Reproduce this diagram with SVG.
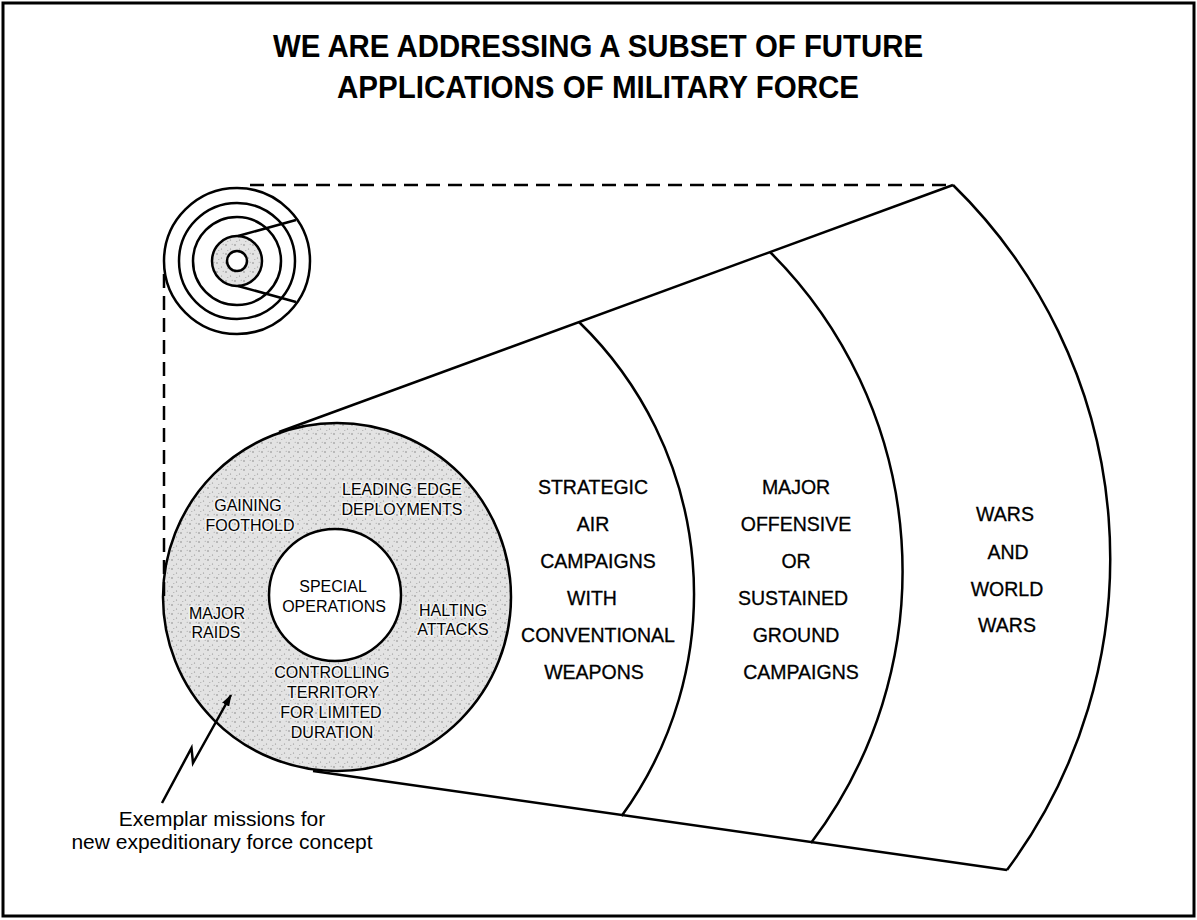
<svg xmlns="http://www.w3.org/2000/svg" width="1197" height="920" viewBox="0 0 1197 920">
<style>
text{font-family:"Liberation Sans",Arial,Helvetica,sans-serif;fill:#000;text-anchor:middle}
.title{font-size:32px;font-weight:bold}
.lbl{font-size:16px;paint-order:stroke;stroke:#f4f4f4;stroke-width:3px;stroke-linejoin:round}
.big{font-size:19.5px;stroke:#000;stroke-width:0.3px}
.note{font-size:21px}
.ln{fill:none;stroke:#000;stroke-width:2.5}
.dash{fill:none;stroke:#000;stroke-width:2.5;stroke-dasharray:14 8}
</style>
<defs>
<pattern id="stip" width="9" height="9" patternUnits="userSpaceOnUse">
<rect width="9" height="9" fill="#e3e3e3"/>
<circle cx="1" cy="2" r="0.7" fill="#6f6f6f"/>
<circle cx="5.5" cy="6" r="0.6" fill="#888"/>
<circle cx="7.2" cy="1.2" r="0.5" fill="#999"/>
<circle cx="2.8" cy="7.6" r="0.5" fill="#999"/>
</pattern>
<marker id="ah" viewBox="0 0 12 8" refX="11" refY="4" markerWidth="12" markerHeight="8" markerUnits="userSpaceOnUse" orient="auto">
<path d="M0,0 L12,4 L0,8 Z" fill="#000"/>
</marker>
</defs>
<rect x="3" y="3" width="1191" height="913" fill="#fff" stroke="#000" stroke-width="3"/>
<g id="title">
<text class="title" x="598" y="57" textLength="650" lengthAdjust="spacingAndGlyphs">WE ARE ADDRESSING A SUBSET OF FUTURE</text>
<text class="title" x="598" y="98" textLength="522" lengthAdjust="spacingAndGlyphs">APPLICATIONS OF MILITARY FORCE</text>
</g>
<g id="icon">
<circle class="ln" cx="237" cy="261" r="73"/>
<circle class="ln" cx="237" cy="261" r="58"/>
<circle class="ln" cx="237" cy="261" r="44"/>
<circle cx="237" cy="261" r="25" fill="url(#stip)" stroke="#000" stroke-width="2.5"/>
<circle cx="237" cy="261" r="10" fill="#fff" stroke="#000" stroke-width="2.5"/>
<path class="ln" d="M238,236 L296,220 M238,286 L296,302"/>
</g>
<g id="arcs">
<path class="ln" d="M579,322 A378,378 0 0 1 621.6,816"/>
<path class="ln" d="M770,252 A450,450 0 0 1 811,843"/>
<path class="ln" d="M953,185 A522,522 0 0 1 1007,870"/>
</g>
<g id="core">
<circle cx="337" cy="597" r="174" fill="url(#stip)" stroke="#000" stroke-width="2.5"/>
<circle cx="335" cy="595" r="66" fill="#fff" stroke="#000" stroke-width="2.5"/>
<text class="lbl" x="248" y="511">GAINING</text>
<text class="lbl" x="250" y="531">FOOTHOLD</text>
<text class="lbl" x="402" y="495">LEADING EDGE</text>
<text class="lbl" x="402" y="515">DEPLOYMENTS</text>
<text class="lbl" x="333" y="592" style="stroke:none">SPECIAL</text>
<text class="lbl" x="334" y="612" style="stroke:none">OPERATIONS</text>
<text class="lbl" x="217" y="619">MAJOR</text>
<text class="lbl" x="216" y="638">RAIDS</text>
<text class="lbl" x="453" y="616">HALTING</text>
<text class="lbl" x="453" y="635">ATTACKS</text>
<text class="lbl" x="332" y="678">CONTROLLING</text>
<text class="lbl" x="333" y="698">TERRITORY</text>
<text class="lbl" x="331" y="718">FOR LIMITED</text>
<text class="lbl" x="332" y="738">DURATION</text>
</g>
<g id="connectors">
<path class="dash" d="M250,185 H953"/>
<path class="dash" d="M164,274 V600"/>
<path class="ln" d="M279,432 L953,185"/>
<path class="ln" d="M313,771 L1007,870"/>
<path class="ln" d="M162,803 L191.5,748 L193,763 L231,695" marker-end="url(#ah)"/>
</g>
<g id="strategic">
<text class="big" x="593" y="494">STRATEGIC</text>
<text class="big" x="593" y="531">AIR</text>
<text class="big" x="598" y="568">CAMPAIGNS</text>
<text class="big" x="592" y="605">WITH</text>
<text class="big" x="598" y="642">CONVENTIONAL</text>
<text class="big" x="594" y="679">WEAPONS</text>
</g>
<g id="major">
<text class="big" x="796" y="494">MAJOR</text>
<text class="big" x="796" y="531">OFFENSIVE</text>
<text class="big" x="796" y="568">OR</text>
<text class="big" x="793" y="605">SUSTAINED</text>
<text class="big" x="796" y="642">GROUND</text>
<text class="big" x="801" y="679">CAMPAIGNS</text>
</g>
<g id="wars">
<text class="big" x="1005" y="521">WARS</text>
<text class="big" x="1008" y="559">AND</text>
<text class="big" x="1007" y="596">WORLD</text>
<text class="big" x="1007" y="632">WARS</text>
</g>
<g id="note">
<text class="note" x="222" y="826">Exemplar missions for</text>
<text class="note" x="222" y="849">new expeditionary force concept</text>
</g>
</svg>
